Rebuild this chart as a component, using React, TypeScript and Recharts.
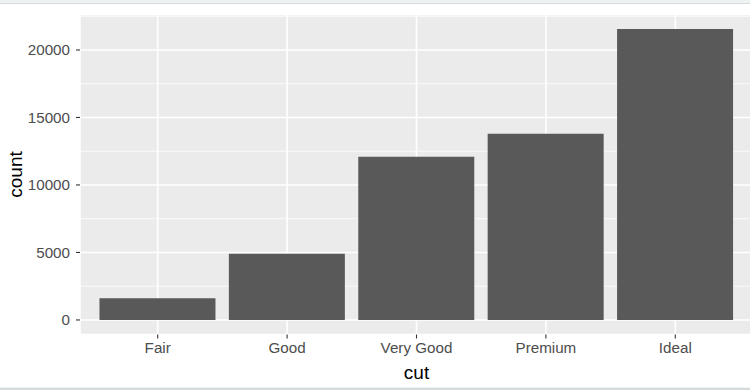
import React from 'react';
import { BarChart, Bar, XAxis, YAxis, CartesianGrid, Label } from 'recharts';

const cuts = ['Fair', 'Good', 'Very Good', 'Premium', 'Ideal'];
const counts = [1610, 4906, 12082, 13791, 21551];
const yTicks = [0, 5000, 10000, 15000, 20000];
const yMinor = [2500, 7500, 12500, 17500, 22500];
const yDomain = [-1077.55, 22628.55];

const data = cuts.map((cut, i) => ({ cut, count: counts[i] }));

const FONT = '"Liberation Sans", Arial, Helvetica, sans-serif';

const YTitle = (props: any) => {
  const vb = props.viewBox || {};
  const cx = 15;
  const cy = (vb.y ?? 0) + (vb.height ?? 0) / 2;
  return (
    <text
      x={cx}
      y={cy}
      transform={`rotate(-90, ${cx}, ${cy})`}
      textAnchor="middle"
      dominantBaseline="central"
      fontSize={19}
      fill="#000"
      fontFamily={FONT}
    >
      count
    </text>
  );
};

export default function App() {
  return (
    <div style={{ position: 'absolute', left: 0, top: 0, width: 750, height: 390, background: '#fff', overflow: 'hidden' }}>
      <div style={{ position: 'absolute', left: 0, top: 0 }}>
        <BarChart
          width={753}
          height={390}
          data={data}
          margin={{ top: 14.5, right: 0, bottom: 0, left: 0 }}
          barCategoryGap="5%"
          style={{ fontFamily: FONT }}
        >
          <CartesianGrid
            fill="#EBEBEB"
            stroke="#FFFFFF"
            strokeWidth={0.8}
            vertical={false}
            horizontalValues={yMinor}
          />
          <CartesianGrid
            fill="none"
            stroke="#FFFFFF"
            strokeWidth={1.6}
          />
          <XAxis
            dataKey="cut"
            type="category"
            height={55.5}
            padding={{ left: 13, right: 13 }}
            axisLine={false}
            tickLine={{ stroke: '#333333', strokeWidth: 1.1 }}
            tickSize={4}
            tickMargin={4}
            tick={{ fill: '#4D4D4D', fontSize: 15.2, fontFamily: FONT }}
          >
            <Label
              value="cut"
              position="insideBottom"
              offset={11}
              style={{ fill: '#000', fontSize: 19, fontFamily: FONT }}
            />
          </XAxis>
          <YAxis
            type="number"
            domain={yDomain}
            ticks={yTicks}
            allowDataOverflow
            width={80}
            axisLine={false}
            tickLine={{ stroke: '#333333', strokeWidth: 1.1 }}
            tickSize={4}
            tickMargin={6}
            tick={{ fill: '#4D4D4D', fontSize: 15.2, fontFamily: FONT }}
          >
            <Label content={YTitle} />
          </YAxis>
          <Bar dataKey="count" fill="#595959" isAnimationActive={false} />
        </BarChart>
      </div>
      <div style={{ position: 'absolute', left: 0, top: 0, width: 750, height: 3, background: '#EEF2F3' }} />
      <div style={{ position: 'absolute', left: 0, top: 3, width: 750, height: 1, background: '#D6DADC' }} />
      <div style={{ position: 'absolute', left: 0, top: 387, width: 750, height: 1, background: '#EEF2F3' }} />
      <div style={{ position: 'absolute', left: 0, top: 388, width: 750, height: 2, background: '#D6DADC' }} />
    </div>
  );
}
